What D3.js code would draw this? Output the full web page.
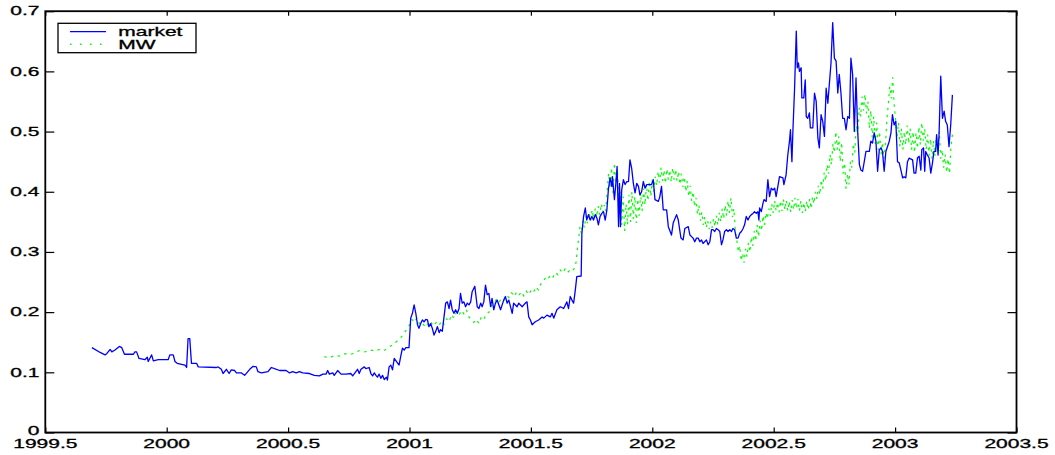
<!DOCTYPE html>
<html>
<head>
<meta charset="utf-8">
<script src="https://cdn.jsdelivr.net/npm/d3@7/dist/d3.min.js"></script>
<style>
  html, body { margin: 0; padding: 0; background: #fff; }
  svg { display: block; }
  text { font-family: "Liberation Sans", Arial, Helvetica, sans-serif; fill: #000; stroke: #000; stroke-width: 0.3px; }
</style>
</head>
<body>
<svg id="chart" width="1055" height="455"></svg>
<script>
// ---------------- DATA ----------------
const marketDates = [
1999.692,1999.726,1999.746,1999.753,1999.767,1999.774,1999.787,1999.805,1999.815,1999.826,
1999.863,1999.869,1999.876,1999.886,1999.910,1999.920,1999.924,1999.938,1999.945,1999.965,
2000.006,2000.013,2000.027,2000.034,2000.043,2000.075,2000.082,2000.088,2000.095,2000.102,
2000.123,2000.130,2000.205,2000.212,2000.225,2000.232,2000.246,2000.257,2000.266,2000.280,
2000.287,2000.308,2000.321,2000.342,2000.356,2000.369,2000.376,2000.390,2000.417,2000.431,
2000.444,2000.465,2000.492,2000.506,2000.519,2000.533,2000.547,2000.560,2000.588,2000.608,
2000.629,2000.643,2000.656,2000.663,2000.670,2000.684,2000.690,2000.704,2000.718,2000.738,
2000.759,2000.766,2000.786,2000.793,2000.800,2000.814,2000.820,2000.834,2000.841,2000.848,
2000.855,2000.862,2000.868,2000.875,2000.882,2000.889,2000.896,2000.905,2000.909,2000.916,
2000.923,2000.930,2000.937,2000.946,2000.957,2000.964,2000.971,2000.978,2000.985,2000.998,
2001.005,2001.012,2001.019,2001.026,2001.033,2001.039,2001.046,2001.053,2001.060,2001.067,
2001.074,2001.080,2001.087,2001.094,2001.101,2001.108,2001.115,2001.122,2001.128,2001.135,
2001.149,2001.156,2001.163,2001.169,2001.176,2001.183,2001.190,2001.197,2001.204,2001.210,
2001.217,2001.224,2001.231,2001.238,2001.245,2001.252,2001.258,2001.269,2001.279,2001.286,
2001.293,2001.299,2001.306,2001.313,2001.320,2001.327,2001.334,2001.340,2001.347,2001.354,
2001.361,2001.375,2001.388,2001.395,2001.402,2001.409,2001.416,2001.423,2001.429,2001.443,
2001.450,2001.464,2001.477,2001.484,2001.491,2001.498,2001.505,2001.518,2001.532,2001.546,
2001.553,2001.566,2001.580,2001.587,2001.594,2001.607,2001.621,2001.635,2001.642,2001.648,
2001.655,2001.662,2001.669,2001.676,2001.683,2001.689,2001.707,2001.710,2001.717,2001.724,
2001.730,2001.737,2001.744,2001.751,2001.758,2001.765,2001.772,2001.778,2001.785,2001.792,
2001.799,2001.806,2001.813,2001.819,2001.826,2001.833,2001.836,2001.844,2001.850,2001.855,
2001.861,2001.865,2001.869,2001.874,2001.881,2001.888,2001.895,2001.902,2001.908,2001.915,
2001.922,2001.929,2001.936,2001.943,2001.949,2001.956,2001.963,2001.970,2001.977,2001.990,
2001.997,2002.004,2002.011,2002.025,2002.031,2002.038,2002.045,2002.059,2002.066,2002.079,
2002.086,2002.100,2002.107,2002.118,2002.127,2002.134,2002.148,2002.155,2002.168,2002.175,
2002.182,2002.189,2002.196,2002.203,2002.209,2002.223,2002.230,2002.237,2002.244,2002.250,
2002.257,2002.264,2002.271,2002.278,2002.285,2002.291,2002.298,2002.305,2002.312,2002.319,
2002.326,2002.332,2002.339,2002.346,2002.353,2002.360,2002.367,2002.374,2002.380,2002.387,
2002.394,2002.401,2002.408,2002.415,2002.421,2002.428,2002.435,2002.439,2002.442,2002.449,
2002.456,2002.460,2002.469,2002.476,2002.483,2002.490,2002.497,2002.504,2002.510,2002.524,
2002.538,2002.542,2002.551,2002.558,2002.565,2002.569,2002.575,2002.579,2002.586,2002.593,
2002.597,2002.602,2002.606,2002.613,2002.616,2002.624,2002.630,2002.634,2002.640,2002.647,
2002.651,2002.661,2002.668,2002.675,2002.682,2002.688,2002.695,2002.702,2002.709,2002.716,
2002.723,2002.729,2002.736,2002.743,2002.750,2002.757,2002.764,2002.770,2002.777,2002.784,
2002.791,2002.798,2002.805,2002.812,2002.818,2002.825,2002.832,2002.839,2002.846,2002.853,
2002.859,2002.866,2002.873,2002.880,2002.894,2002.900,2002.907,2002.914,2002.921,2002.928,
2002.935,2002.942,2002.948,2002.955,2002.962,2002.976,2002.983,2002.989,2002.996,2003.003,
2003.010,2003.017,2003.024,2003.031,2003.037,2003.044,2003.051,2003.058,2003.072,2003.078,
2003.085,2003.092,2003.099,2003.106,2003.110,2003.117,2003.122,2003.126,2003.133,2003.140,
2003.147,2003.154,2003.160,2003.167,2003.171,2003.177,2003.181,2003.188,2003.195,2003.202,
2003.208,2003.215,2003.222,2003.229,2003.236
];
const marketValues = [
0.141,0.133,0.129,0.131,0.138,0.134,0.137,0.143,0.141,0.130,
0.130,0.134,0.134,0.123,0.121,0.125,0.118,0.129,0.119,0.121,
0.121,0.129,0.129,0.118,0.115,0.112,0.108,0.156,0.156,0.115,
0.115,0.109,0.108,0.109,0.105,0.098,0.105,0.098,0.104,0.103,
0.099,0.099,0.095,0.105,0.110,0.109,0.101,0.099,0.101,0.108,
0.106,0.103,0.103,0.099,0.101,0.099,0.101,0.099,0.098,0.095,
0.094,0.097,0.097,0.103,0.097,0.099,0.095,0.103,0.097,0.097,
0.098,0.094,0.105,0.098,0.105,0.109,0.106,0.108,0.098,0.094,
0.099,0.095,0.092,0.097,0.090,0.095,0.088,0.092,0.087,0.109,
0.112,0.104,0.123,0.118,0.112,0.127,0.140,0.137,0.141,0.141,
0.190,0.198,0.212,0.198,0.179,0.173,0.181,0.187,0.184,0.188,
0.187,0.176,0.181,0.173,0.162,0.168,0.176,0.166,0.171,0.168,
0.215,0.217,0.206,0.220,0.204,0.198,0.204,0.198,0.206,0.231,
0.215,0.217,0.209,0.215,0.212,0.217,0.234,0.243,0.209,0.206,
0.215,0.209,0.217,0.245,0.229,0.231,0.209,0.223,0.204,0.215,
0.220,0.204,0.220,0.226,0.215,0.220,0.209,0.198,0.215,0.209,
0.215,0.209,0.215,0.217,0.192,0.187,0.179,0.184,0.187,0.192,
0.190,0.195,0.192,0.198,0.190,0.204,0.209,0.206,0.212,0.217,
0.206,0.226,0.220,0.215,0.237,0.259,0.260,0.331,0.359,0.373,
0.353,0.362,0.353,0.359,0.353,0.362,0.356,0.345,0.359,0.364,
0.367,0.353,0.370,0.403,0.423,0.409,0.425,0.387,0.414,0.442,
0.342,0.414,0.342,0.403,0.420,0.412,0.417,0.417,0.453,0.439,
0.414,0.398,0.414,0.409,0.395,0.400,0.417,0.406,0.412,0.412,
0.412,0.420,0.387,0.384,0.392,0.409,0.370,0.370,0.342,0.328,
0.348,0.362,0.353,0.323,0.320,0.339,0.342,0.328,0.323,0.317,
0.323,0.323,0.317,0.320,0.314,0.320,0.312,0.317,0.337,0.337,
0.334,0.339,0.337,0.334,0.312,0.320,0.334,0.337,0.334,0.337,
0.334,0.339,0.337,0.323,0.323,0.331,0.334,0.339,0.345,0.359,
0.353,0.359,0.362,0.364,0.367,0.364,0.367,0.353,0.373,0.367,
0.381,0.387,0.384,0.420,0.392,0.406,0.403,0.406,0.392,0.425,
0.423,0.412,0.428,0.461,0.484,0.503,0.450,0.500,0.572,0.667,
0.606,0.614,0.600,0.606,0.556,0.556,0.586,0.525,0.522,0.531,
0.506,0.506,0.564,0.550,0.489,0.473,0.528,0.517,0.492,0.572,
0.547,0.578,0.614,0.681,0.622,0.617,0.564,0.595,0.564,0.522,
0.522,0.503,0.525,0.522,0.622,0.595,0.500,0.589,0.500,0.445,
0.436,0.434,0.450,0.467,0.467,0.484,0.481,0.498,0.484,0.434,
0.470,0.473,0.467,0.434,0.467,0.484,0.498,0.528,0.511,0.517,
0.450,0.448,0.436,0.423,0.425,0.423,0.450,0.456,0.453,0.431,
0.431,0.456,0.459,0.436,0.470,0.473,0.434,0.467,0.461,0.456,
0.431,0.448,0.467,0.467,0.495,0.461,0.495,0.592,0.522,0.534,
0.517,0.511,0.475,0.511,0.561
];
const mwDates = [
2000.649,2000.670,2000.690,2000.711,2000.735,2000.760,2000.793,2000.815,2000.840,2000.860,
2000.875,2000.895,2000.916,2000.935,2000.949,2000.965,2000.978,2000.990,2001.002,2001.010,
2001.020,2001.030,2001.040,2001.050,2001.060,2001.070,2001.080,2001.090,2001.100,2001.110,
2001.122,2001.132,2001.142,2001.152,2001.163,2001.173,2001.183,2001.193,2001.204,2001.214,
2001.224,2001.234,2001.245,2001.255,2001.265,2001.275,2001.286,2001.296,2001.306,2001.316,
2001.327,2001.337,2001.347,2001.357,2001.367,2001.380,2001.390,2001.400,2001.410,2001.421,
2001.431,2001.441,2001.451,2001.461,2001.471,2001.481,2001.491,2001.501,2001.511,2001.521,
2001.531,2001.541,2001.551,2001.561,2001.571,2001.581,2001.591,2001.601,2001.611,2001.621,
2001.631,2001.641,2001.651,2001.661,2001.671,2001.684,2001.690,2001.696,2001.702,2001.708,
2001.714,2001.720,2001.727,2001.733,2001.740,2001.746,2001.752,2001.758,2001.765,2001.771,
2001.777,2001.783,2001.790,2001.796,2001.802,2001.808,2001.814,2001.820,2001.826,2001.832,
2001.838,2001.844,2001.850,2001.856,2001.862,2001.868,2001.874,2001.880,2001.886,2001.892,
2001.898,2001.904,2001.910,2001.916,2001.922,2001.928,2001.934,2001.940,2001.946,2001.952,
2001.958,2001.964,2001.970,2001.976,2001.982,2001.988,2001.994,2002.000,2002.006,2002.012,
2002.018,2002.024,2002.030,2002.036,2002.042,2002.048,2002.054,2002.060,2002.066,2002.072,
2002.078,2002.084,2002.090,2002.096,2002.102,2002.108,2002.114,2002.120,2002.126,2002.132,
2002.138,2002.144,2002.150,2002.156,2002.162,2002.168,2002.174,2002.180,2002.186,2002.192,
2002.198,2002.204,2002.210,2002.216,2002.222,2002.228,2002.234,2002.240,2002.246,2002.252,
2002.258,2002.264,2002.270,2002.276,2002.282,2002.288,2002.294,2002.300,2002.306,2002.312,
2002.318,2002.324,2002.330,2002.336,2002.342,2002.348,2002.354,2002.360,2002.366,2002.372,
2002.378,2002.384,2002.390,2002.396,2002.402,2002.408,2002.414,2002.420,2002.426,2002.432,
2002.438,2002.444,2002.450,2002.456,2002.462,2002.468,2002.474,2002.480,2002.486,2002.492,
2002.498,2002.504,2002.510,2002.516,2002.522,2002.528,2002.534,2002.540,2002.546,2002.552,
2002.558,2002.564,2002.570,2002.576,2002.582,2002.588,2002.594,2002.600,2002.606,2002.612,
2002.618,2002.624,2002.630,2002.636,2002.642,2002.648,2002.654,2002.660,2002.666,2002.672,
2002.678,2002.684,2002.690,2002.696,2002.702,2002.708,2002.714,2002.720,2002.726,2002.732,
2002.738,2002.744,2002.750,2002.756,2002.762,2002.768,2002.774,2002.780,2002.786,2002.792,
2002.798,2002.804,2002.810,2002.816,2002.822,2002.828,2002.834,2002.840,2002.846,2002.852,
2002.858,2002.864,2002.870,2002.876,2002.882,2002.888,2002.894,2002.900,2002.906,2002.912,
2002.918,2002.924,2002.930,2002.936,2002.942,2002.948,2002.954,2002.960,2002.966,2002.972,
2002.978,2002.984,2002.990,2002.996,2003.002,2003.008,2003.014,2003.020,2003.026,2003.032,
2003.038,2003.044,2003.050,2003.056,2003.062,2003.068,2003.074,2003.080,2003.086,2003.092,
2003.098,2003.104,2003.110,2003.116,2003.122,2003.128,2003.134,2003.140,2003.146,2003.152,
2003.158,2003.164,2003.170,2003.176,2003.182,2003.188,2003.194,2003.200,2003.206,2003.212,
2003.218,2003.224,2003.230,2003.236
];
const mwValues = [
0.126,0.124,0.128,0.127,0.131,0.130,0.136,0.134,0.137,0.135,
0.138,0.136,0.142,0.147,0.152,0.158,0.165,0.172,0.180,0.188,
0.183,0.190,0.181,0.184,0.178,0.183,0.176,0.182,0.177,0.183,
0.178,0.186,0.180,0.189,0.184,0.196,0.190,0.200,0.195,0.203,
0.197,0.204,0.192,0.187,0.183,0.188,0.181,0.192,0.188,0.197,
0.200,0.210,0.214,0.221,0.216,0.223,0.220,0.228,0.224,0.232,
0.226,0.233,0.228,0.234,0.227,0.235,0.229,0.237,0.233,0.242,
0.237,0.247,0.251,0.258,0.255,0.262,0.258,0.266,0.262,0.270,
0.265,0.272,0.266,0.270,0.268,0.276,0.300,0.320,0.342,0.330,
0.352,0.340,0.360,0.348,0.366,0.352,0.370,0.355,0.372,0.358,
0.376,0.362,0.380,0.366,0.378,0.368,0.400,0.431,0.405,0.440,
0.398,0.448,0.415,0.438,0.385,0.400,0.345,0.392,0.335,0.380,
0.345,0.395,0.350,0.400,0.355,0.392,0.348,0.388,0.360,0.398,
0.368,0.405,0.378,0.412,0.385,0.418,0.392,0.420,0.400,0.425,
0.410,0.434,0.415,0.440,0.418,0.436,0.414,0.438,0.420,0.436,
0.416,0.440,0.420,0.437,0.418,0.434,0.412,0.430,0.408,0.425,
0.400,0.418,0.392,0.410,0.385,0.400,0.375,0.390,0.362,0.378,
0.352,0.366,0.345,0.358,0.340,0.352,0.338,0.350,0.340,0.355,
0.342,0.360,0.345,0.365,0.350,0.372,0.355,0.378,0.360,0.385,
0.365,0.390,0.358,0.372,0.335,0.320,0.300,0.310,0.285,0.298,
0.282,0.305,0.292,0.315,0.300,0.325,0.310,0.335,0.318,0.345,
0.325,0.352,0.335,0.360,0.345,0.365,0.355,0.372,0.360,0.380,
0.365,0.385,0.368,0.382,0.366,0.385,0.368,0.388,0.370,0.386,
0.368,0.384,0.366,0.386,0.370,0.390,0.372,0.388,0.368,0.385,
0.365,0.382,0.367,0.385,0.370,0.388,0.372,0.392,0.380,0.400,
0.388,0.410,0.395,0.420,0.405,0.432,0.418,0.445,0.430,0.462,
0.445,0.480,0.465,0.500,0.470,0.492,0.450,0.482,0.430,0.448,
0.405,0.430,0.412,0.450,0.440,0.480,0.465,0.510,0.495,0.540,
0.525,0.558,0.535,0.562,0.530,0.550,0.505,0.535,0.490,0.525,
0.480,0.515,0.470,0.500,0.462,0.482,0.455,0.475,0.520,0.545,
0.575,0.555,0.590,0.545,0.520,0.490,0.515,0.475,0.505,0.470,
0.500,0.478,0.510,0.480,0.505,0.470,0.500,0.465,0.498,0.472,
0.508,0.478,0.515,0.485,0.505,0.470,0.495,0.460,0.488,0.455,
0.485,0.460,0.492,0.470,0.500,0.455,0.470,0.440,0.462,0.432,
0.455,0.430,0.475,0.495
];
const xTicks = [1999.5, 2000, 2000.5, 2001, 2001.5, 2002, 2002.5, 2003, 2003.5];
const yTicks = [0, 0.1, 0.2, 0.3, 0.4, 0.5, 0.6, 0.7];
const seriesNames = ["market", "MW"];
const seriesColors = ["#0000ff", "#00ff00"];

// ---------------- LAYOUT ----------------
const svg = d3.select("#chart");
const W = 1055, H = 455;
const mLeft = 45.3, mRight = 1016.5, mTop = 11.2, mBottom = 432.5;
const TX = 1.75; // horizontal stretch of the text as in the reference

svg.append("rect").attr("width", W).attr("height", H).attr("fill", "#fff");

const x = d3.scaleLinear().domain([1999.5, 2003.5]).range([mLeft, mRight]);
const y = d3.scaleLinear().domain([0, 0.7]).range([mBottom, mTop]);

const nM = Math.min(marketDates.length, marketValues.length);
const market = d3.range(nM).map(i => [marketDates[i], marketValues[i]]);
const nW = Math.min(mwDates.length, mwValues.length);
const mw = d3.range(nW).map(i => [mwDates[i], mwValues[i]]);

const line = d3.line().x(d => x(d[0])).y(d => y(d[1]));

// MW dotted (drawn first)
svg.append("path").datum(mw)
  .attr("d", line)
  .attr("fill", "none")
  .attr("stroke", seriesColors[1])
  .attr("stroke-width", 1.2)
  .attr("stroke-dasharray", "2.5,4.5");

// market solid
svg.append("path").datum(market)
  .attr("d", line)
  .attr("fill", "none")
  .attr("stroke", seriesColors[0])
  .attr("stroke-width", 1.3)
  .attr("stroke-linejoin", "round");

// Axes (MATLAB style, inward ticks, box)
const gBottom = svg.append("g").attr("transform", `translate(0,${mBottom})`)
  .call(d3.axisBottom(x).tickValues(xTicks).tickSize(-5).tickFormat(() => ""));
const gTop = svg.append("g").attr("transform", `translate(0,${mTop})`)
  .call(d3.axisTop(x).tickValues(xTicks).tickSize(-4.5).tickFormat(() => ""));
const gLeft = svg.append("g").attr("transform", `translate(${mLeft},0)`)
  .call(d3.axisLeft(y).tickValues(yTicks).tickSize(-9).tickFormat(() => ""));
const gRight = svg.append("g").attr("transform", `translate(${mRight},0)`)
  .call(d3.axisRight(y).tickValues(yTicks).tickSize(-9).tickFormat(() => ""));
[gBottom, gTop, gLeft, gRight].forEach(g => {
  g.select(".domain").remove();
  g.selectAll(".tick line").attr("stroke", "#000").attr("stroke-width", 1.2);
});

// frame
svg.append("rect")
  .attr("x", mLeft).attr("y", mTop)
  .attr("width", mRight - mLeft).attr("height", mBottom - mTop)
  .attr("fill", "none").attr("stroke", "#000").attr("stroke-width", 1.8);

// tick labels
xTicks.forEach(t => {
  svg.append("g").attr("transform", `translate(${x(t)},447.5) scale(${TX},1)`)
    .append("text").attr("text-anchor", "middle").attr("font-size", 12)
    .text(d3.format("")(t));
});
yTicks.forEach(v => {
  svg.append("g").attr("transform", `translate(39.5,${y(v) + (v === 0 ? 2 : 4.2)}) scale(${TX},1)`)
    .append("text").attr("text-anchor", "end").attr("font-size", 12)
    .text(v === 0 ? "0" : d3.format(".1f")(v));
});

// legend
const leg = svg.append("g");
leg.append("rect").attr("x", 58).attr("y", 23.3).attr("width", 138).attr("height", 29.4)
  .attr("fill", "#fff").attr("stroke", "#000").attr("stroke-width", 1.3);
leg.append("line").attr("x1", 70).attr("x2", 106).attr("y1", 31.7).attr("y2", 31.7)
  .attr("stroke", seriesColors[0]).attr("stroke-width", 1.2);
leg.append("line").attr("x1", 70).attr("x2", 106).attr("y1", 44.3).attr("y2", 44.3)
  .attr("stroke", seriesColors[1]).attr("stroke-width", 1.5).attr("stroke-dasharray", "1.5,8.5");
seriesNames.forEach((n, i) => {
  leg.append("g").attr("transform", `translate(118.3,${35.6 + i * 13}) scale(${TX},1)`)
    .append("text").attr("font-size", 12).text(n);
});
</script>
</body>
</html>
